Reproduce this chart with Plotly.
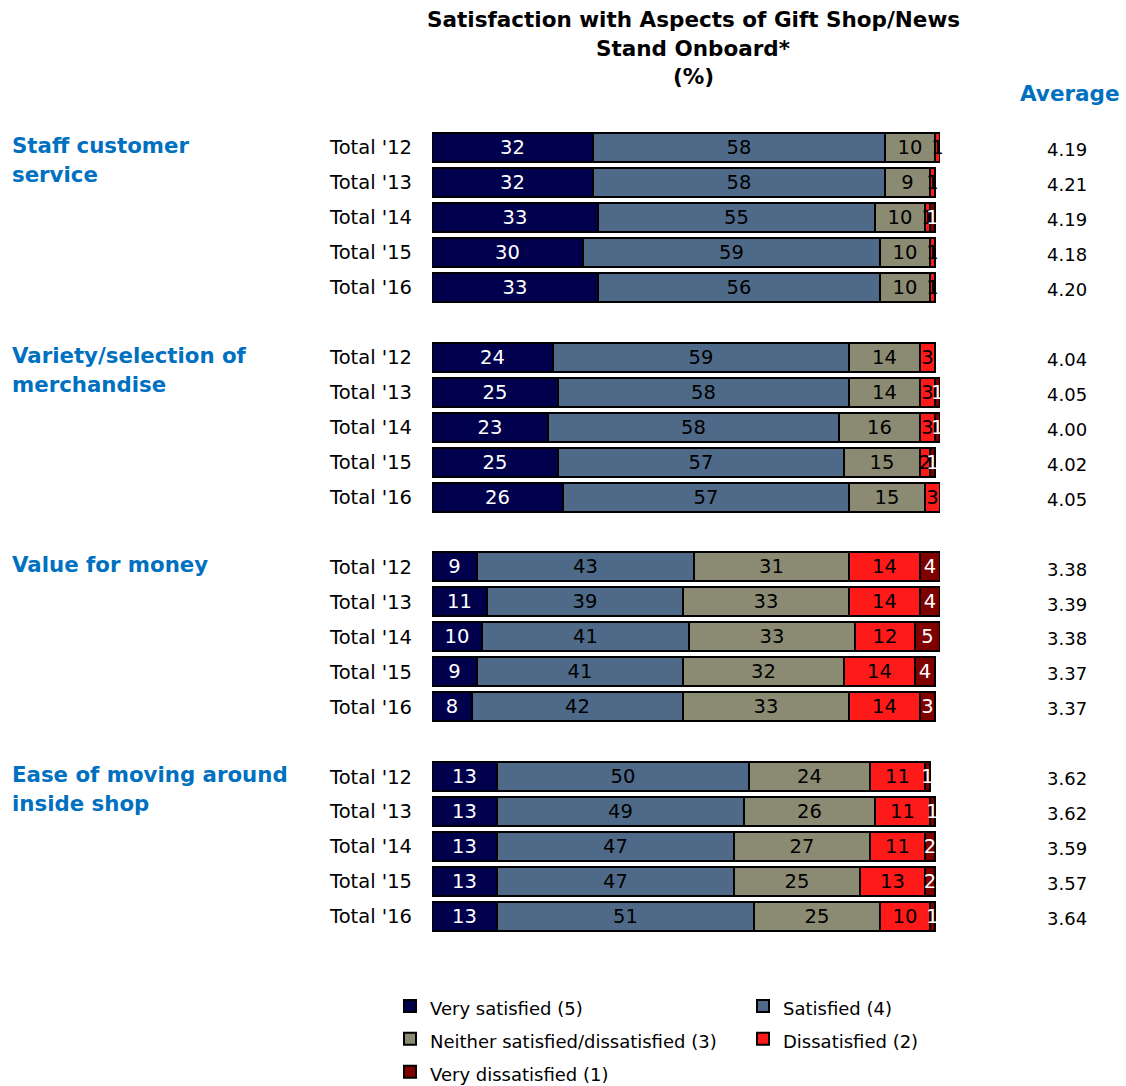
import plotly.graph_objects as go

# Survey aspects and the five yearly waves shown for each
aspects = [
    "Staff customer<br>service",
    "Variety/selection of<br>merchandise",
    "Value for money",
    "Ease of moving around<br>inside shop",
]
years = ["Total '12", "Total '13", "Total '14", "Total '15", "Total '16"]

# Percent of respondents per rating, aspect by aspect, '12 -> '16
very_satisfied = [32, 32, 33, 30, 33, 24, 25, 23, 25, 26, 9, 11, 10, 9, 8, 13, 13, 13, 13, 13]
satisfied = [58, 58, 55, 59, 56, 59, 58, 58, 57, 57, 43, 39, 41, 41, 42, 50, 49, 47, 47, 51]
neither = [10, 9, 10, 10, 10, 14, 14, 16, 15, 15, 31, 33, 33, 32, 33, 24, 26, 27, 25, 25]
dissatisfied = [1, 1, 1, 1, 1, 3, 3, 3, 2, 3, 14, 14, 12, 14, 14, 11, 11, 11, 13, 10]
very_dissatisfied = [0, 0, 1, 0, 0, 0, 1, 1, 1, 0, 4, 4, 5, 4, 3, 1, 1, 2, 2, 1]

# Mean score on the 5-point scale
averages = [4.19, 4.21, 4.19, 4.18, 4.20, 4.04, 4.05, 4.00, 4.02, 4.05,
            3.38, 3.39, 3.38, 3.37, 3.37, 3.62, 3.62, 3.59, 3.57, 3.64]

FONT = "DejaVu Sans"
BLUE = "#0070C0"

# Plot area geometry (pixels)
L, T, W, H = 432, 129.5, 508, 805
FIG_W, FIG_H = 1126, 1086


def px_x(p):
    return (p - L) / W


def px_y(p):
    return 1 + (T - p) / H


# One blank slot between aspect groups
rows = [g * 6 + r for g in range(len(aspects)) for r in range(len(years))]
row_labels = [years[r] for g in range(len(aspects)) for r in range(len(years))]

series = [
    ("Very satisfied (5)", very_satisfied, "#00004C", "white"),
    ("Satisfied (4)", satisfied, "#4E6A88", "black"),
    ("Neither satisfied/dissatisfied (3)", neither, "#8B8B73", "black"),
    ("Dissatisfied (2)", dissatisfied, "#FF1A1A", "black"),
    ("Very dissatisfied (1)", very_dissatisfied, "#800000", "white"),
]

fig = go.Figure()
for name, vals, color, txtcolor in series:
    fig.add_trace(go.Bar(
        y=rows, x=vals, orientation="h",
        # legend rows are spaced by the larger legend font; entry text stays 18px
        name=f'<span style="font-size:18px">{name}</span>',
        marker=dict(color=color, line=dict(color="black", width=2)),
        text=[str(v) if v else "" for v in vals],
        textposition="inside", insidetextanchor="middle",
        textangle=0, constraintext="none", cliponaxis=False,
        textfont=dict(family=FONT, size=19.5, color=txtcolor),
        width=0.83, hoverinfo="skip",
    ))

ann = []
# Title, one annotation per line
for i, line in enumerate(["Satisfaction with Aspects of Gift Shop/News", "Stand Onboard*", "(%)"]):
    ann.append(dict(text=f"<b>{line}</b>", xref="paper", yref="paper",
                    x=px_x(693), y=px_y(19 + 28.5 * i),
                    xanchor="center", yanchor="middle", showarrow=False,
                    font=dict(family=FONT, size=21.5, color="black")))

# Aspect names on the left
for g, label in enumerate(aspects):
    for k, line in enumerate(label.split("<br>")):
        ann.append(dict(text=f"<b>{line}</b>", xref="paper", yref="paper",
                        x=px_x(10), y=px_y(145 + g * 210 + k * 29),
                        xanchor="left", yanchor="middle", showarrow=False,
                        font=dict(family=FONT, size=21.3, color=BLUE)))

# Average column
ann.append(dict(text="<b>Average</b>", xref="paper", yref="paper",
                x=px_x(1070), y=px_y(93),
                xanchor="center", yanchor="middle", showarrow=False,
                font=dict(family=FONT, size=21.5, color=BLUE)))
for yr, avg in zip(rows, averages):
    ann.append(dict(text=f"{avg:.2f}", xref="paper", yref="y",
                    x=px_x(1067), y=yr + 0.06,
                    xanchor="center", yanchor="middle", showarrow=False,
                    font=dict(family=FONT, size=18, color="black")))

fig.update_layout(
    width=FIG_W, height=FIG_H,
    margin=dict(l=L, r=FIG_W - L - W, t=T, b=FIG_H - T - H, autoexpand=False),
    paper_bgcolor="white", plot_bgcolor="white",
    barmode="stack", bargap=0,
    showlegend=True,
    legend=dict(orientation="h", x=px_x(390), xanchor="left",
                y=px_y(985), yanchor="top",
                entrywidth=308, traceorder="normal",
                font=dict(family=FONT, size=23, color="black")),
    xaxis=dict(range=[0, 101], visible=False, fixedrange=True),
    yaxis=dict(range=[22.5, -0.5], tickvals=rows, ticktext=row_labels,
               showgrid=False, zeroline=False, showline=False, ticks="",
               ticklabelstandoff=19,
               tickfont=dict(family=FONT, size=19.5, color="black")),
    annotations=ann,
    font=dict(family=FONT),
)

fig.write_html("out.html")
